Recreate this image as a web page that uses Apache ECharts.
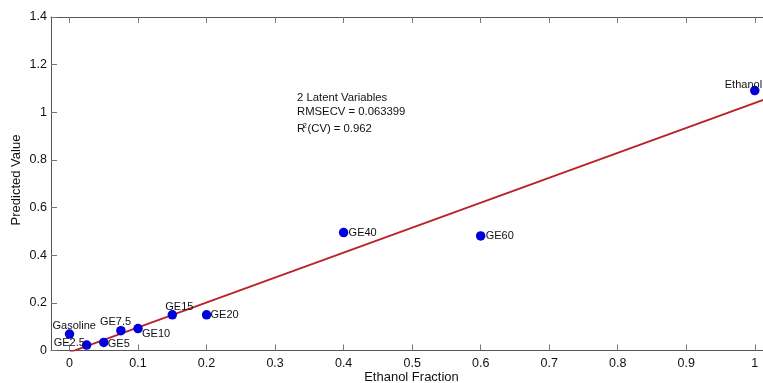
<!DOCTYPE html>
<html>
<head>
<meta charset="utf-8">
<script src="https://cdn.jsdelivr.net/npm/echarts@6/dist/echarts.min.js"></script>
<style>
  html, body { margin: 0; padding: 0; background: #fff; }
  #chart { width: 763px; height: 383px; }
</style>
</head>
<body>
<div id="chart"></div>
<script>
// Calibration samples: ethanol fraction vs PLS predicted value
const sampleNames = ['Gasoline', 'GE2.5', 'GE5', 'GE7.5', 'GE10', 'GE15', 'GE20', 'GE40', 'GE60', 'Ethanol'];
const ethanolFraction = [0, 0.025, 0.05, 0.075, 0.1, 0.15, 0.2, 0.4, 0.6, 1.0];
const predictedValue = [0.069, 0.023, 0.034, 0.083, 0.092, 0.150, 0.150, 0.495, 0.481, 1.091];

// Axis ticks
const xTickValues = [0, 0.1, 0.2, 0.3, 0.4, 0.5, 0.6, 0.7, 0.8, 0.9, 1];
const yTickValues = [0, 0.2, 0.4, 0.6, 0.8, 1, 1.2, 1.4];

// Regression fit line
const fitSlope = 1.047;
const fitIntercept = -0.008;
const fitXRange = [0, 1.03];

// Model statistics
const statsTitle = '2 Latent Variables';
const statsRmsecv = 'RMSECV = 0.063399';
const statsR2 = '0.962';

const FONT = "'Liberation Sans', Arial, Helvetica, sans-serif";
const TEXT = '#111';

// Label placement (offset of the label's left-middle from the marker centre)
const labelOffsets = {
  'Gasoline': [-17, -8],
  'GE2.5': [-33, -2],
  'GE5': [4, 1.5],
  'GE7.5': [-21, -9],
  'GE10': [4, 5.5],
  'GE15': [-7, -8],
  'GE20': [4, 0],
  'GE40': [5, 0],
  'GE60': [5, 0],
  'Ethanol': [-30, -6]
};

const points = sampleNames.map((name, i) => ({
  name: name,
  value: [ethanolFraction[i], predictedValue[i]],
  label: { offset: labelOffsets[name] }
}));

const fitLine = fitXRange.map(x => [x, fitSlope * x + fitIntercept]);

const chart = echarts.init(document.getElementById('chart'), null, { renderer: 'canvas' });

const axisLineStyle = { color: '#555', width: 1 };
const tickStyle = { color: '#777', width: 1 };
const X_MIN = -0.027;
const X_MAX = 1.012;

chart.setOption({
  animation: false,
  backgroundColor: '#fff',
  grid: { left: 51, top: 17, right: 0, bottom: 32.5 },
  xAxis: [
    {
      type: 'value',
      position: 'bottom',
      min: X_MIN,
      max: X_MAX,
      axisLine: { show: true, onZero: false, lineStyle: axisLineStyle },
      axisTick: { show: true, inside: true, length: 6, customValues: xTickValues, lineStyle: tickStyle },
      axisLabel: {
        show: true, customValues: xTickValues, margin: 7,
        color: TEXT, fontSize: 12.5, fontFamily: FONT,
        formatter: v => String(v)
      },
      splitLine: { show: false }
    },
    {
      type: 'value',
      position: 'top',
      min: X_MIN,
      max: X_MAX,
      axisLine: { show: true, onZero: false, lineStyle: axisLineStyle },
      axisTick: { show: true, inside: true, length: 6, customValues: xTickValues, lineStyle: tickStyle },
      axisLabel: { show: false },
      splitLine: { show: false }
    }
  ],
  yAxis: {
    type: 'value',
    min: 0,
    max: 1.4,
    interval: 0.2,
    axisLine: { show: true, onZero: false, lineStyle: axisLineStyle },
    axisTick: { show: true, inside: true, length: 6, lineStyle: tickStyle },
    axisLabel: {
      margin: 4, color: TEXT, fontSize: 12.5, fontFamily: FONT,
      formatter: v => String(Math.round(v * 10) / 10)
    },
    splitLine: { show: false }
  },
  series: [
    {
      type: 'line',
      data: fitLine,
      showSymbol: false,
      symbol: 'none',
      clip: true,
      lineStyle: { color: '#b8232b', width: 1.8 },
      z: 2,
      silent: true
    },
    {
      type: 'scatter',
      data: points,
      symbol: 'circle',
      symbolSize: 9.5,
      itemStyle: { color: '#0000dd', opacity: 1 },
      z: 3,
      label: {
        show: true,
        position: 'inside',
        align: 'left',
        verticalAlign: 'middle',
        formatter: p => p.name,
        color: TEXT,
        textBorderWidth: 0,
        fontSize: 11,
        fontFamily: FONT
      }
    }
  ],
  graphic: [
    {
      type: 'text', x: 297, y: 97.8,
      style: { text: statsTitle, fill: TEXT, fontSize: 11.3, fontFamily: FONT, align: 'left', verticalAlign: 'middle' }
    },
    {
      type: 'text', x: 297, y: 111.7,
      style: { text: statsRmsecv, fill: TEXT, fontSize: 11.3, fontFamily: FONT, align: 'left', verticalAlign: 'middle' }
    },
    {
      type: 'text', x: 297, y: 129,
      style: { text: 'R', fill: TEXT, fontSize: 11.3, fontFamily: FONT, align: 'left', verticalAlign: 'middle' }
    },
    {
      type: 'text', x: 303, y: 126,
      style: { text: '2', fill: TEXT, fontSize: 7, fontFamily: FONT, align: 'left', verticalAlign: 'middle' }
    },
    {
      type: 'text', x: 307.5, y: 129,
      style: { text: '(CV) = ' + statsR2, fill: TEXT, fontSize: 11.3, fontFamily: FONT, align: 'left', verticalAlign: 'middle' }
    },
    {
      type: 'text', x: 411.5, y: 377,
      style: { text: 'Ethanol Fraction', fill: TEXT, fontSize: 13, fontFamily: FONT, align: 'center', verticalAlign: 'middle' }
    },
    {
      type: 'text', x: 16, y: 180, rotation: Math.PI / 2,
      style: { text: 'Predicted Value', fill: TEXT, fontSize: 13, fontFamily: FONT, align: 'center', verticalAlign: 'middle' }
    }
  ]
});
</script>
</body>
</html>
